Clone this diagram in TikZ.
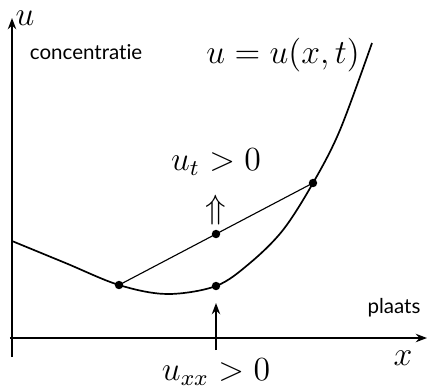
\documentclass[tikz,border=0pt]{standalone}
\usepackage{amsmath,amssymb}
\usepackage{fontspec}
\newfontfamily\labelfont[Ligatures=NoCommon]{Lato}
\usetikzlibrary{arrows.meta,positioning}

\begin{document}
\begin{tikzpicture}[x=0.5cm,y=0.5cm,
    axis/.style={-{Stealth[length=4pt,width=3pt]},semithick},
    dot/.style={circle,fill,inner sep=0pt,minimum size=3pt},
    sanslabel/.style={font=\labelfont\fontsize{7.3}{8}\selectfont},
    mathlabel/.style={font=\fontsize{11.5}{13}\selectfont}]
  \useasboundingbox (-0.3,-1.225) rectangle (10.375,8.45);
  % assen
  \draw[axis] (0,-0.475) -- (0,8.0) node[mathlabel,right,inner sep=1pt] (ulab) {$u$};
  \draw[axis] (-0.05,0) -- (10.375,0);
  \node[sanslabel,anchor=west] (conc) at (0.2,7.15) {concentratie};
  \node[sanslabel] (plaats) at (9.55,0.75) {plaats};
  \node[mathlabel] (xlab) at (9.775,-0.5) {$x$};
  % grafiek
  \coordinate (pl) at (2.675,1.325);
  \coordinate (pm) at (5.1,1.3);
  \coordinate (pr) at (7.525,3.875);
  \draw[semithick] plot[smooth,tension=0.55] coordinates {(0,2.425) (1.3375,1.875)
      (pl) (3.875,1.1) (pm) (5.95,1.875) (6.775,2.7) (pr) (8.2,5.2) (9.0,7.375)};
  \node[mathlabel] (ulabel) at (6.775,7.075) {$u=u(x,t)$};
  % koorde
  \draw[thin] (pl) -- (pr) coordinate[pos=0.5] (pc);
  \node[dot] (dl) at (pl) {};
  \node[dot] (dm) at (pm) {};
  \node[dot] (dr) at (pr) {};
  \node[dot] (dc) at (pc) {};
  \node[mathlabel] (uparr) at (5.1,3.2) {$\Uparrow$};
  \node[mathlabel] (ut) at (5.1,4.4) {$u_t>0$};
  % pijl onder
  \coordinate (ab) at (5.1,-0.3);
  \coordinate (at) at (5.1,0.875);
  \draw[-{Stealth[length=4pt,width=3pt]},semithick] (ab) -- (at);
  \node[mathlabel] (uxx) at (5.1,-0.85) {$u_{xx}>0$};
\end{tikzpicture}
\end{document}
